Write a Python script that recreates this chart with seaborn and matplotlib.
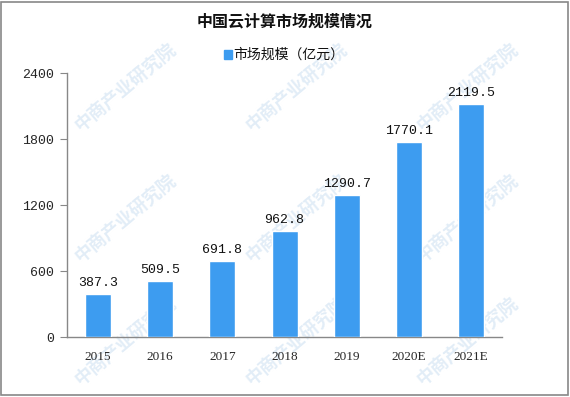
import matplotlib
matplotlib.use("Agg")
import matplotlib.pyplot as plt
import seaborn as sns
import pandas as pd
from matplotlib.patches import Rectangle

# 中国云计算市场规模（亿元）
years = ["2015", "2016", "2017", "2018", "2019", "2020E", "2021E"]
values = [387.3, 509.5, 691.8, 962.8, 1290.7, 1770.1, 2119.5]
yticks = [0, 600, 1200, 1800, 2400]

data = pd.DataFrame({"年份": years, "市场规模（亿元）": values})

sns.set_style("white")
plt.rcParams["font.family"] = ["Noto Sans CJK SC", "DejaVu Sans"]

fig = plt.figure(figsize=(5.7, 3.97), dpi=100)
ax = fig.add_axes([0.1175, 0.151, 0.7635, 0.665])
ax.set_zorder(2)

# 水印
for wx, wy in [(0.22, 0.78), (0.52, 0.78), (0.82, 0.78),
               (0.22, 0.45), (0.52, 0.45), (0.82, 0.45),
               (0.22, 0.14), (0.52, 0.14), (0.82, 0.14)]:
    fig.text(wx, wy, "中商产业研究院", fontsize=13, color="#e2edf7",
             rotation=40, ha="center", va="center", fontweight="bold", zorder=-5)

bar_color = "#3d9cf0"
sns.barplot(x="年份", y="市场规模（亿元）", data=data, color=bar_color, width=0.42,
            saturation=1, ax=ax, zorder=3)
ax.patch.set_alpha(0)

for i, v in enumerate(values):
    ax.text(i, v + 45, f"{v:.1f}", ha="center", va="bottom", fontsize=9.5, color="#111111",
            family=["Liberation Mono", "DejaVu Sans"])

ax.set_ylim(0, 2400)
ax.set_xlim(-0.5, len(years) - 0.5)
ax.set_yticks(yticks)
ax.set_yticklabels([str(t) for t in yticks], fontsize=9.5, family=["Liberation Mono", "DejaVu Sans"])
ax.set_xticks(range(len(years)))
ax.set_xticklabels(years, fontsize=9.5, family=["Liberation Serif", "DejaVu Sans"])
ax.set_xticks([i - 0.5 for i in range(len(years) + 1)], minor=True)
ax.tick_params(axis="x", which="major", length=0, pad=10)
ax.tick_params(axis="x", which="minor", length=5, color="#888888", direction="out")
ax.tick_params(axis="y", length=5, color="#888888", direction="out", left=True, pad=4)
ax.set_xlabel("")
ax.set_ylabel("")

for s in ["top", "right"]:
    ax.spines[s].set_visible(False)
for s in ["left", "bottom"]:
    ax.spines[s].set_color("#888888")
    ax.spines[s].set_linewidth(1)

fig.text(0.5, 0.945, "中国云计算市场规模情况", ha="center", va="center", fontsize=11.5,
         fontweight="bold", color="#111111")
fig.patches.append(Rectangle((0.393, 0.852), 0.014, 0.022, transform=fig.transFigure,
                             color=bar_color, figure=fig))
fig.text(0.41, 0.863, "市场规模（亿元）", ha="left", va="center", fontsize=10, color="#111111")

fig.patches.append(Rectangle((0.002, 0.004), 0.995, 0.99, transform=fig.transFigure,
                             fill=False, edgecolor="#888888", linewidth=1.2, figure=fig))

fig.savefig("out.png", dpi=100)
